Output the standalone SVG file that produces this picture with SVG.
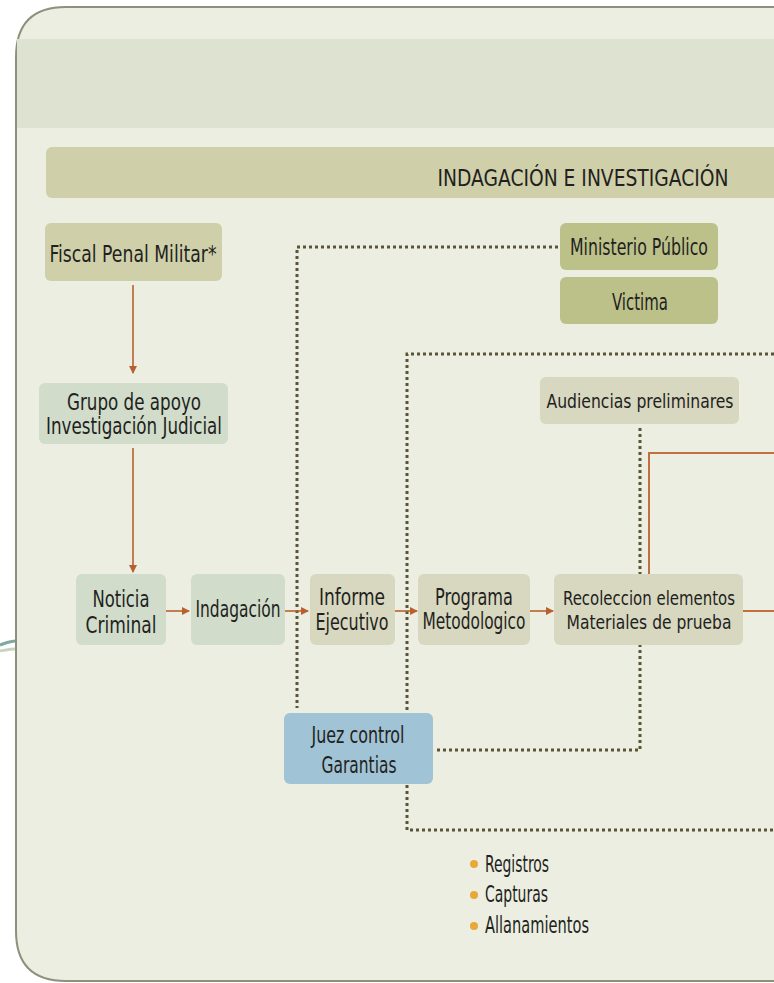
<svg xmlns="http://www.w3.org/2000/svg" width="774" height="983" viewBox="0 0 774 983">
<defs>
<style>
.t{font-family:'DejaVu Sans Condensed','Liberation Sans Narrow','Liberation Sans',sans-serif;font-stretch:condensed;font-size:23px;fill:#231f20;text-anchor:middle}
.s{font-size:20px}
.b{text-anchor:start}
.dot{fill:none;stroke:#5b5537;stroke-width:3;stroke-dasharray:3 3}
.arr{fill:none;stroke:#b8612f;stroke-width:1.6}
.or{fill:none;stroke:#c0703f;stroke-width:2}
.g1{fill:#d1dccb}
.g2{fill:#d8d8c1}
.g3{fill:#bcc18a}
</style>
<marker id="ah" viewBox="0 0 8 8" refX="7" refY="4" markerWidth="8" markerHeight="8" markerUnits="userSpaceOnUse" orient="auto">
<path d="M0,0 L8,4 L0,8 Z" fill="#b8612f"/>
</marker>
</defs>

<g id="background">
<path d="M0,645 C6,643 10,641 16,641" fill="none" stroke="#7fa8a0" stroke-width="3"/>
<path d="M0,651 C6,650 10,649 16,649" fill="none" stroke="#c8d4c0" stroke-width="3"/>
<path d="M790,7 L66,7 Q16,7 16,57 L16,931 Q16,981 66,981 L790,981" fill="#ebeee0" stroke="#8d917c" stroke-width="2"/>
<rect x="17" y="39" width="760" height="89" fill="#dee2d0"/>
</g>

<g id="title">
<rect x="46" y="147" width="740" height="51" rx="6" fill="#cfd0a9"/>
<text class="t" x="583" y="186" font-size="29" textLength="291" lengthAdjust="spacingAndGlyphs">INDAGACIÓN E INVESTIGACIÓN</text>
</g>

<g id="connectors">
<path class="dot" d="M558,247 L297,247 L297,708"/>
<path class="dot" d="M780,354 L407,354 L407,830 L780,830"/>
<path class="dot" d="M640,428 L640,750 L435,750"/>
<path class="or" d="M649,574 L649,453 L780,453"/>
<path class="or" d="M743,611 L780,611"/>
<path class="arr" d="M133,285 L133,373" marker-end="url(#ah)"/>
<path class="arr" d="M133,448 L133,572" marker-end="url(#ah)"/>
<path class="arr" d="M166,611 L189,611" marker-end="url(#ah)"/>
<path class="arr" d="M285,611 L308,611" marker-end="url(#ah)"/>
<path class="arr" d="M395,611 L417,611" marker-end="url(#ah)"/>
<path class="arr" d="M530,611 L553,611" marker-end="url(#ah)"/>
</g>

<g id="fiscal">
<rect x="45" y="223" width="177" height="58" rx="6" fill="#cfd0aa"/>
<text class="t" x="133" y="262" textLength="167" lengthAdjust="spacingAndGlyphs">Fiscal Penal Militar*</text>
</g>
<g id="grupo">
<rect x="39" y="383" width="189" height="61" rx="6" class="g1"/>
<text class="t" x="134" y="410" textLength="134" lengthAdjust="spacingAndGlyphs">Grupo de apoyo</text>
<text class="t" x="134" y="434" textLength="176" lengthAdjust="spacingAndGlyphs">Investigación Judicial</text>
</g>
<g id="noticia">
<rect x="76" y="574" width="90" height="71" rx="6" class="g1"/>
<text class="t" x="121" y="607" textLength="57" lengthAdjust="spacingAndGlyphs">Noticia</text>
<text class="t" x="121" y="633" textLength="71" lengthAdjust="spacingAndGlyphs">Criminal</text>
</g>
<g id="indagacion">
<rect x="191" y="574" width="94" height="71" rx="6" class="g1"/>
<text class="t" x="238" y="617" textLength="85" lengthAdjust="spacingAndGlyphs">Indagación</text>
</g>
<g id="informe">
<rect x="310" y="574" width="85" height="71" rx="6" class="g2"/>
<text class="t" x="352" y="605" textLength="66" lengthAdjust="spacingAndGlyphs">Informe</text>
<text class="t" x="352" y="630" textLength="73" lengthAdjust="spacingAndGlyphs">Ejecutivo</text>
</g>
<g id="programa">
<rect x="418" y="574" width="112" height="71" rx="6" class="g2"/>
<text class="t" x="474" y="605" textLength="78" lengthAdjust="spacingAndGlyphs">Programa</text>
<text class="t" x="474" y="629" textLength="103" lengthAdjust="spacingAndGlyphs">Metodologico</text>
</g>
<g id="recoleccion">
<rect x="554" y="574" width="189" height="71" rx="6" class="g2"/>
<text class="t s" x="649" y="605" textLength="172" lengthAdjust="spacingAndGlyphs">Recoleccion elementos</text>
<text class="t s" x="649" y="629" textLength="165" lengthAdjust="spacingAndGlyphs">Materiales de prueba</text>
</g>
<g id="ministerio">
<rect x="560" y="223" width="158" height="47" rx="6" class="g3"/>
<text class="t" x="639" y="255" textLength="138" lengthAdjust="spacingAndGlyphs">Ministerio Público</text>
</g>
<g id="victima">
<rect x="560" y="277" width="158" height="47" rx="6" class="g3"/>
<text class="t" x="640" y="310" textLength="56" lengthAdjust="spacingAndGlyphs">Victima</text>
</g>
<g id="audiencias">
<rect x="540" y="377" width="199" height="47" rx="6" class="g2"/>
<text class="t s" x="640" y="408" textLength="187" lengthAdjust="spacingAndGlyphs">Audiencias preliminares</text>
</g>
<g id="juez">
<rect x="284" y="713" width="149" height="71" rx="6" fill="#a0c3d5"/>
<text class="t" x="358" y="743" textLength="93" lengthAdjust="spacingAndGlyphs">Juez control</text>
<text class="t" x="359" y="773" textLength="75" lengthAdjust="spacingAndGlyphs">Garantias</text>
</g>
<g id="bullets">
<circle cx="474" cy="864" r="4" fill="#e8a83a"/>
<circle cx="474" cy="895" r="4" fill="#e8a83a"/>
<circle cx="474" cy="926" r="4" fill="#e8a83a"/>
<text class="t b" x="485" y="872" font-size="21" textLength="64" lengthAdjust="spacingAndGlyphs">Registros</text>
<text class="t b" x="485" y="902" font-size="21" textLength="63" lengthAdjust="spacingAndGlyphs">Capturas</text>
<text class="t b" x="485" y="933" font-size="21" textLength="104" lengthAdjust="spacingAndGlyphs">Allanamientos</text>
</g>
</svg>
